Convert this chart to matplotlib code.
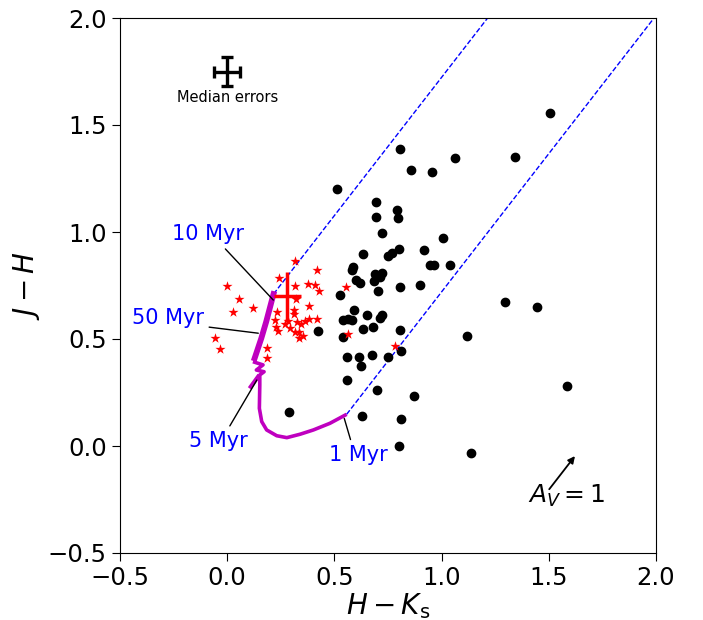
import matplotlib
matplotlib.use("Agg")
import matplotlib.pyplot as plt

# field / candidate sources: H-Ks and J-H colours
field_hk = [0.514, 0.806, 0.856, 0.953, 1.061, 1.341, 1.506, 0.693, 0.695, 0.793,
            0.797, 0.720, 1.008, 0.632, 0.801, 0.918, 0.750, 0.769, 0.588, 0.584,
            0.944, 0.964, 1.041, 0.691, 0.721, 0.713, 0.687, 0.603, 0.619, 0.806,
            0.901, 0.704, 0.524, 0.592, 0.651, 0.721, 0.713, 0.542, 0.565, 0.584,
            0.679, 0.635, 0.806, 0.425, 0.542, 1.117, 0.561, 0.616, 0.674, 0.751,
            0.809, 0.625, 0.557, 0.697, 0.873, 0.630, 0.812, 0.289, 0.801, 1.135,
            1.296, 1.446, 1.587]
field_jh = [1.201, 1.386, 1.290, 1.279, 1.344, 1.350, 1.558, 1.139, 1.069, 1.101,
            1.066, 0.994, 0.970, 0.897, 0.922, 0.914, 0.888, 0.902, 0.838, 0.822,
            0.846, 0.846, 0.844, 0.806, 0.808, 0.791, 0.773, 0.776, 0.764, 0.744,
            0.751, 0.723, 0.706, 0.636, 0.610, 0.614, 0.600, 0.589, 0.592, 0.590,
            0.557, 0.546, 0.540, 0.537, 0.510, 0.515, 0.417, 0.416, 0.424, 0.414,
            0.444, 0.372, 0.310, 0.262, 0.232, 0.140, 0.128, 0.157, 0.002, -0.034,
            0.675, 0.651, 0.279]

# cluster members (red stars)
memb_hk = [0.316, 0.419, 0.243, -0.003, 0.318, 0.379, 0.410, 0.429, 0.055, 0.321,
           0.028, 0.119, 0.231, 0.313, 0.313, 0.382, 0.223, 0.285, 0.324, 0.344,
           0.363, 0.382, 0.420, 0.270, 0.228, 0.291, 0.239, 0.316, 0.335, 0.335,
           0.355, -0.056, -0.034, 0.184, 0.184, 0.552, 0.565, 0.783]
memb_jh = [0.864, 0.822, 0.787, 0.748, 0.746, 0.756, 0.754, 0.726, 0.686, 0.686,
           0.628, 0.647, 0.628, 0.636, 0.617, 0.652, 0.589, 0.584, 0.578, 0.572,
           0.582, 0.593, 0.592, 0.568, 0.558, 0.551, 0.537, 0.534, 0.534, 0.507,
           0.514, 0.503, 0.453, 0.460, 0.410, 0.744, 0.523, 0.467]

# isochrones: young track (1-5 Myr) and older band (10-50 Myr)
iso_young_hk = [0.557, 0.479, 0.402, 0.340, 0.278, 0.231, 0.184, 0.161, 0.150, 0.152,
                0.152, 0.172, 0.136, 0.167, 0.120]
iso_young_jh = [0.148, 0.106, 0.075, 0.055, 0.039, 0.048, 0.075, 0.114, 0.176, 0.285,
                0.332, 0.347, 0.355, 0.379, 0.394]
iso_tail_hk = [0.144, 0.110]
iso_tail_jh = [0.324, 0.277]
iso_old_hk = [0.128, 0.159, 0.182, 0.216]
iso_old_jh = [0.410, 0.503, 0.581, 0.710]

# reddening vector for A_V = 1
red_dhk, red_djh = 0.12, 0.155

# median errors and mean member colour
med_err_hk, med_err_jh = 0.06, 0.068
memb_mean = (0.28, 0.70)
memb_err = (0.062, 0.115)

fig = plt.figure(figsize=(7.03, 6.2), dpi=100)
ax = fig.add_axes([120 / 703, 67 / 620, 536 / 703, 535 / 620])

# reddening band from the isochrone extremes
for x0, y0 in [(iso_old_hk[-1], iso_old_jh[-1]), (iso_young_hk[0], iso_young_jh[0])]:
    k = 20
    ax.plot([x0, x0 + k * red_dhk], [y0, y0 + k * red_djh], "b--", lw=1, zorder=1)

ax.plot(iso_young_hk, iso_young_jh, color="m", lw=2.6, solid_capstyle="butt", zorder=3)
ax.plot(iso_tail_hk, iso_tail_jh, color="m", lw=3, zorder=3)
ax.plot(iso_old_hk, iso_old_jh, color="m", lw=4.2, zorder=3)

ax.scatter(field_hk, field_jh, s=36, c="k", zorder=2)
ax.scatter(memb_hk, memb_jh, s=58, c="r", marker="*", linewidths=0, zorder=4)

ax.errorbar(memb_mean[0], memb_mean[1], xerr=memb_err[0], yerr=memb_err[1],
            color="r", lw=2.5, zorder=5)
ax.errorbar(0.0, 1.75, xerr=med_err_hk, yerr=med_err_jh, color="k", lw=2.4,
            capsize=4.5, capthick=2.4)
ax.text(0.0, 1.63, "Median errors", ha="center", va="center", fontsize=10.5)

ax.annotate("", xy=(1.502 + red_dhk, -0.202 + red_djh), xytext=(1.502, -0.202),
            arrowprops=dict(arrowstyle="-|>", color="k", lw=1.3, mutation_scale=10,
                            shrinkA=0, shrinkB=0))
ax.text(1.585, -0.235, r"$A_V = 1$", ha="center", va="center", fontsize=18)

line_kw = dict(arrowstyle="-", color="k", lw=1, shrinkA=2, shrinkB=0)
ax.annotate("10 Myr", xy=(0.215, 0.682), xytext=(-0.09, 0.99), color="b", fontsize=15,
            ha="center", va="center", arrowprops=dict(relpos=(0.68, 0), **line_kw))
ax.annotate("50 Myr", xy=(0.145, 0.527), xytext=(-0.278, 0.596), color="b", fontsize=15,
            ha="center", va="center", arrowprops=dict(relpos=(1.0, 0.1), **line_kw))
ax.annotate("5 Myr", xy=(0.138, 0.308), xytext=(-0.043, 0.023), color="b", fontsize=15,
            ha="center", va="center", arrowprops=dict(relpos=(0.65, 1), **line_kw))
ax.annotate("1 Myr", xy=(0.546, 0.129), xytext=(0.61, -0.042), color="b", fontsize=15,
            ha="center", va="center", arrowprops=dict(relpos=(0.4, 1), **line_kw))

ax.set_xlim(-0.5, 2.0)
ax.set_ylim(-0.5, 2.0)
ax.set_xticks([-0.5, 0.0, 0.5, 1.0, 1.5, 2.0])
ax.set_yticks([-0.5, 0.0, 0.5, 1.0, 1.5, 2.0])
ax.tick_params(labelsize=17.5, length=6)
ax.set_xlabel(r"$H-K_\mathrm{s}$", fontsize=20, labelpad=1)
ax.set_ylabel(r"$J-H$", fontsize=20)

fig.savefig("out.png", dpi=100)
